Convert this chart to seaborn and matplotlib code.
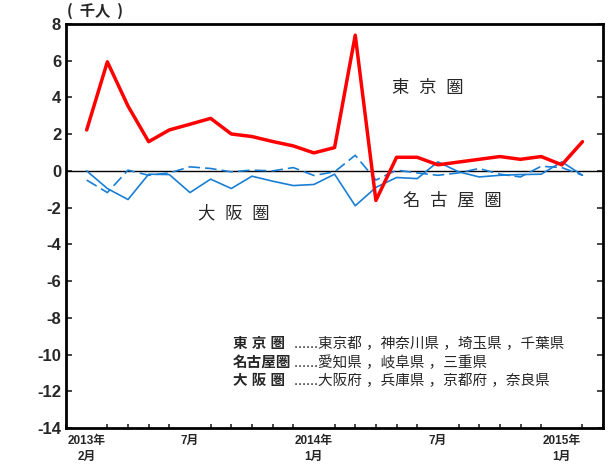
import numpy as np
import pandas as pd
import seaborn as sns
import matplotlib.pyplot as plt
from matplotlib.ticker import MultipleLocator

# monthly net migration (thousand persons), 2013/2 .. 2015/2
months = list(range(25))
tokyo = [2.23, 5.94, 3.53, 1.59, 2.23, 2.54, 2.86, 2.01, 1.87, 1.6, 1.36, 0.98, 1.27,
         7.39, -1.61, 0.74, 0.74, 0.33, 0.48, 0.63, 0.78, 0.63, 0.78, 0.33, 1.59]
nagoya = [-0.5, -1.18, 0.04, -0.24, -0.11, 0.22, 0.13, -0.05, 0.04, 0.0, 0.18, -0.25, -0.05,
          0.85, -0.5, 0.04, -0.11, -0.24, -0.11, 0.13, -0.18, -0.33, 0.25, 0.18, -0.24]
osaka = [0.0, -0.96, -1.56, -0.18, -0.2, -1.18, -0.45, -0.96, -0.29, -0.56, -0.8, -0.74, -0.18,
         -1.9, -0.9, -0.36, -0.42, 0.49, -0.05, -0.33, -0.24, -0.2, -0.18, 0.49, -0.24]

tick_pos = [0, 5, 11, 17, 23]
tick_labels = ["2013年\n2月", "7月", "2014年\n1月", "7月", "2015年\n1月"]
yticks = list(range(-14, 9, 2))

legend_names = ["東 京 圏", "名古屋圏", "大 阪 圏"]
legend_desc = ["......東京都 ，神奈川県 ，埼玉県 ，千葉県",
               "......愛知県 ，岐阜県 ，三重県",
               "......大阪府 ，兵庫県 ，京都府 ，奈良県"]

sns.set_style("white")
plt.rcParams["font.family"] = ["Liberation Sans", "Noto Sans CJK JP", "DejaVu Sans"]

fig = plt.figure(figsize=(6.08, 4.70), dpi=100)
ax = fig.add_axes([0.1086, 0.0894, 0.8834, 0.8596])

ax.axhline(0, color="black", lw=1.0, zorder=1)

blue = "#1a7fd4"
sns.lineplot(x=months, y=nagoya, ax=ax, color=blue, lw=1.2, zorder=2)
ax.lines[-1].set_dashes([7, 3])
sns.lineplot(x=months, y=osaka, ax=ax, color=blue, lw=1.2, zorder=2)
sns.lineplot(x=months, y=tokyo, ax=ax, color="#ff0000", lw=2.5, zorder=3)

ax.set_xlim(-1, 25)
ax.set_ylim(-14, 8)
ax.set_yticks(yticks)
ax.set_yticklabels([str(v) for v in yticks], fontsize=12, fontweight="bold")
ax.set_xticks(tick_pos)
ax.set_xticklabels(tick_labels, fontsize=8.5, fontweight="bold", linespacing=1.5)
ax.xaxis.set_minor_locator(MultipleLocator(1))
ax.tick_params(axis="x", which="major", direction="in", length=7, width=2, pad=5)
ax.tick_params(axis="x", which="minor", direction="in", length=3, width=1.2, bottom=True)
ax.tick_params(axis="y", which="major", direction="in", length=4, width=1.2, right=True, left=True)
for s in ax.spines.values():
    s.set_color("black")
    s.set_linewidth(2)

fig.text(0.110, 0.977, "(  千人  )", family=["Noto Sans CJK JP"], fontsize=11,
         fontweight="bold", va="center")

ax.text(16.5, 4.5, "東  京  圏", fontsize=12.5, ha="center", va="center")
ax.text(17.7, -1.6, "名  古  屋  圏", fontsize=12.5, ha="center", va="center")
ax.text(7.1, -2.3, "大  阪  圏", fontsize=12.5, ha="center", va="center")

for i, (nm, ds) in enumerate(zip(legend_names, legend_desc)):
    yy = 0.208 - i * 0.046
    ax.text(0.311, yy, nm, transform=ax.transAxes, fontsize=10.5, fontweight="bold", va="center")
    ax.text(0.424, yy, ds, transform=ax.transAxes, fontsize=10.5, va="center")

fig.savefig("out.png", dpi=100)
